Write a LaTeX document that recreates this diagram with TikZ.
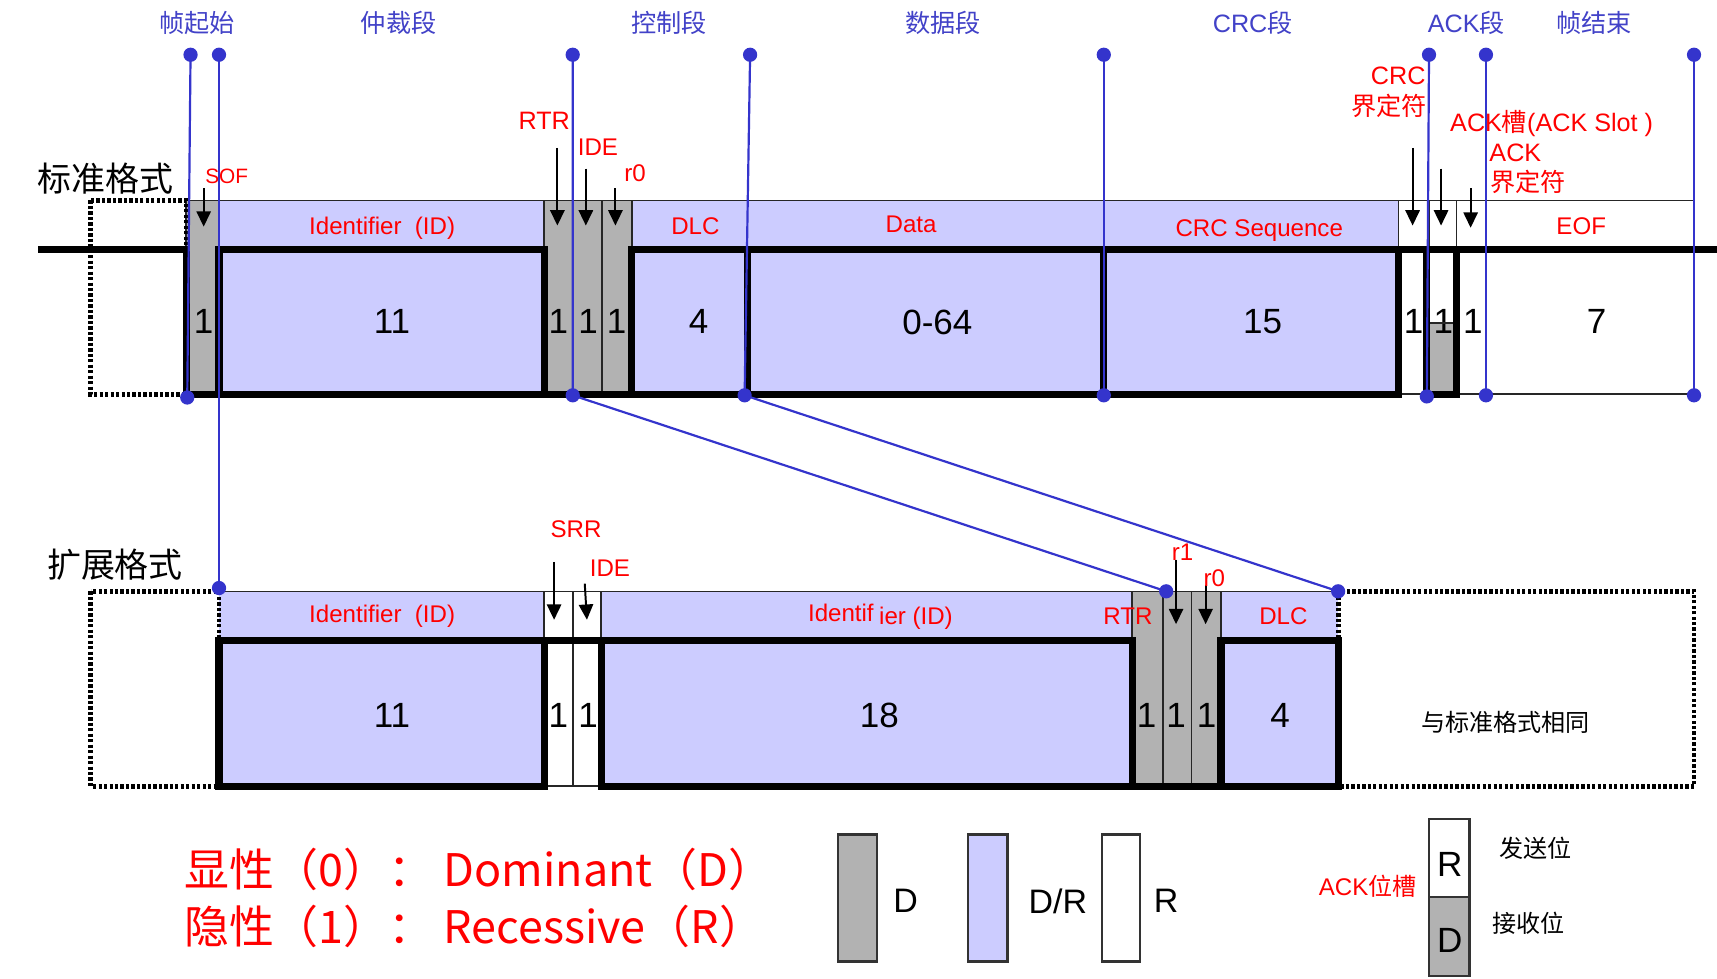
\documentclass[tikz,border=0pt]{standalone}
\usepackage{fontspec}
\setmainfont{Liberation Sans}
\newfontfamily\cjk{Noto Sans CJK SC}
\usetikzlibrary{arrows.meta}
\definecolor{lav}{RGB}{204,204,255}
\definecolor{gry}{RGB}{178,178,178}
\definecolor{bln}{RGB}{52,52,204}
\definecolor{blt}{RGB}{66,66,200}
\definecolor{rd}{RGB}{255,0,0}
\newcommand\cjtext[1]{{\cjk #1}}
\begin{document}
\begin{tikzpicture}[x=1pt,y=-1pt,
  thk/.style={line width=6.5pt,line join=miter,line cap=rect},
  thn/.style={line width=1.5pt,black!85},
  dsh/.style={line width=4.5pt,dash pattern=on 3pt off 2pt,black},
  bline/.style={line width=2pt,bln},
  bdot/.style={circle,fill=bln,inner sep=0pt,minimum size=13pt},
  arr/.style={line width=1.8pt,-{Triangle[width=13pt,length=14pt]}},
  toplab/.style={inner sep=0pt,text=blt,font=\fontsize{23pt}{26pt}\selectfont},
  redlab/.style={inner sep=0pt,text=rd,font=\fontsize{22pt}{26pt}\selectfont},
  smlab/.style={inner sep=0pt,text=rd,font=\fontsize{19pt}{22pt}\selectfont},
  num/.style={inner sep=0pt,font=\fontsize{32pt}{36pt}\selectfont},
  big/.style={inner sep=0pt,font=\fontsize{31pt}{34pt}\selectfont\cjk},
  legbox/.style={draw=black!80,line width=2pt},
  leglab/.style={inner sep=0pt,font=\fontsize{31pt}{34pt}\selectfont},
  legtxt/.style={inner sep=0pt,anchor=west,text=rd,font=\fontsize{41pt}{44pt}\selectfont\cjk},
  chn/.style={inner sep=0pt,font=\fontsize{22pt}{26pt}\selectfont\cjk}
]
\useasboundingbox (0,0) rectangle (1568,894);
\fill[white] (0,0) rectangle (1568,894);

% ---------- top segment labels ----------
\node[toplab] (l1) at (180,21) {\cjtext{帧起始}};
\node[toplab] (l2) at (364,21) {\cjtext{仲裁段}};
\node[toplab] (l3) at (611,21) {\cjtext{控制段}};
\node[toplab] (l4) at (861,21) {\cjtext{数据段}};
\node[toplab] (l5) at (1144,21) {CRC\cjtext{段}};
\node[toplab] (l6) at (1339,21) {ACK\cjtext{段}};
\node[toplab] (l7) at (1456,21) {\cjtext{帧结束}};

\node[big] (std) at (96,163) {标准格式};
\node[big] (ext) at (105,516) {扩展格式};

% ---------- standard frame ----------
\fill[gry] (170,183) rectangle (200,360);
\fill[lav] (200,183) rectangle (497,360);
\fill[gry] (497,183) rectangle (577,360);
\fill[lav] (577,183) rectangle (1277,360);
\fill[gry] (1305,295) rectangle (1330,360);

\draw[thn] (170,183) -- (1547,183);
\draw[thn] (1277,360) -- (1547,360);
\foreach \x in {170,497,523,550,577,1277,1305,1330,1357,1547} \draw[thn] (\x,183) -- (\x,360);

\node[redlab] (fid) at (349,208) {Identifier \ (ID)};
\node[redlab] (fdlc) at (635,207) {DLC};
\node[redlab] (fdata) at (832,205) {Data};
\node[redlab] (fcrc) at (1150,211) {CRC Sequence};
\node[redlab] (feof) at (1444,207) {EOF};

\node[num] (n1) at (186,294) {1};
\node[num] (n2) at (358,294) {11};
\node[num] (n3) at (510,294) {1};
\node[num] (n4) at (537,294) {1};
\node[num] (n5) at (563,294) {1};
\node[num] (n6) at (638,294) {4};
\node[num] (n7) at (856,294) {0-64};
\node[num] (n8) at (1153,294) {15};
\node[num] (n9) at (1291,294) {1};
\node[num] (n10) at (1318,294) {1};
\node[num] (n11) at (1345,294) {1};
\node[num] (n12) at (1458,294) {7};
\draw[thn] (1305,295) -- (1330,295);

\draw[thk] (38,228) -- (170,228) -- (170,360) -- (1277,360);
\draw[thk] (200,360) -- (200,228) -- (497,228) -- (497,360);
\draw[thk] (577,360) -- (577,228) -- (1568,228);
\foreach \x in {683,1008,1277} \draw[thk] (\x,228) -- (\x,360);
\draw[thk] (1303,228) -- (1303,360) -- (1330,360) -- (1330,228);
\draw[dsh] (83,183) rectangle (170,360);

% arrows and labels, standard
\coordinate (a1s) at (186,172); \coordinate (a1e) at (186,207);
\coordinate (a2s) at (509,135); \coordinate (a2e) at (509,206);
\coordinate (a3s) at (535,154); \coordinate (a3e) at (535,206);
\coordinate (a4s) at (562,172); \coordinate (a4e) at (562,206);
\coordinate (a5s) at (1290,135); \coordinate (a5e) at (1290,206);
\coordinate (a6s) at (1316,154); \coordinate (a6e) at (1316,206);
\coordinate (a7s) at (1343,172); \coordinate (a7e) at (1343,208);
\foreach \i in {1,...,7} \draw[arr] (a\i s) -- (a\i e);

\node[smlab] (sof) at (207,161) {SOF};
\node[redlab,font=\fontsize{23pt}{26pt}\selectfont] (rtr) at (497,110) {RTR};
\node[redlab] (ide) at (546,134) {IDE};
\node[redlab] (r0) at (580,158) {r0};
\node[redlab,font=\fontsize{23pt}{26pt}\selectfont,anchor=east] (crc1) at (1302,69) {CRC};
\node[redlab,font=\fontsize{23pt}{26pt}\selectfont\cjk,anchor=east] (crc2) at (1303,97) {界定符};
\node[redlab,font=\fontsize{23pt}{26pt}\selectfont] (acks) at (1417,113) {ACK\cjtext{槽}(ACK Slot )};
\node[redlab,font=\fontsize{23pt}{26pt}\selectfont,anchor=west] (ackd1) at (1360,140) {ACK};
\node[redlab,font=\fontsize{23pt}{26pt}\selectfont\cjk,anchor=west] (ackd2) at (1361,166) {界定符};

% ---------- extended frame ----------
\fill[lav] (200,540) rectangle (497,718);
\fill[white] (497,540) rectangle (549,718);
\fill[lav] (549,540) rectangle (1034,718);
\fill[gry] (1034,540) rectangle (1115,718);
\fill[lav] (1115,540) rectangle (1222,718);
\draw[thn] (200,540) -- (1222,540);
\foreach \x in {497,523,549,1034,1062,1088,1115} \draw[thn] (\x,540) -- (\x,718);
\draw[thn] (497,718) -- (549,718);

\node[redlab] (xid) at (349,563) {Identifier \ (ID)};
\node[redlab] (xid2) at (804,563) {Identif\hspace{5pt}\raisebox{-3pt}{ier (ID)}};
\node[redlab] (xrtr) at (1030,563) {RTR};
\node[redlab] (xdlc) at (1172,563) {DLC};

\node[num] (m1) at (358,653) {11};
\node[num] (m2) at (510,653) {1};
\node[num] (m3) at (537,653) {1};
\node[num] (m4) at (803,653) {18};
\node[num] (m5) at (1047,653) {1};
\node[num] (m6) at (1074,653) {1};
\node[num] (m7) at (1102,653) {1};
\node[num] (m8) at (1169,653) {4};
\node[chn] (same) at (1375,660) {与标准格式相同};

\draw[thk] (200,585) rectangle (497,718);
\draw[thk] (497,585) -- (549,585);
\draw[thk] (549,585) rectangle (1034,718);
\draw[thk] (1034,718) -- (1115,718);
\draw[thk] (1115,585) rectangle (1222,718);
\draw[dsh] (83,540) rectangle (200,718);
\draw[dsh] (1222,540) rectangle (1547,718);

\coordinate (b1s) at (506,513); \coordinate (b1e) at (506,566);
\coordinate (b2s) at (534,533); \coordinate (b2e) at (536,566);
\coordinate (b3s) at (1074,511); \coordinate (b3e) at (1074,570);
\coordinate (b4s) at (1101,534); \coordinate (b4e) at (1101,570);
\foreach \i in {1,...,4} \draw[arr] (b\i s) -- (b\i e);
\node[redlab] (srr) at (526,483) {SRR};
\node[redlab] (xide) at (557,519) {IDE};
\node[redlab] (xr1) at (1080,504) {r1};
\node[redlab] (xr0) at (1109,528) {r0};

% ---------- blue segment markers ----------
\coordinate (t1) at (174,50);  \coordinate (t2) at (200,50);
\coordinate (t3) at (523,50);  \coordinate (t4) at (685,50);
\coordinate (t5) at (1008,50); \coordinate (t6) at (1305,50);
\coordinate (t7) at (1357,50); \coordinate (t8) at (1547,50);
\coordinate (d1) at (171,363); \coordinate (d3) at (523,361);
\coordinate (d4) at (680,361); \coordinate (d5) at (1008,361);
\coordinate (d6) at (1303,362); \coordinate (d7) at (1357,361);
\coordinate (d8) at (1547,361);
\coordinate (e2) at (200,537); \coordinate (e3) at (1065,540);
\coordinate (e4) at (1222,540);
\draw[bline] (t1) -- (d1);
\draw[bline] (t2) -- (e2);
\draw[bline] (t3) -- (d3) -- (e3);
\draw[bline] (t4) -- (d4) -- (e4);
\draw[bline] (t5) -- (d5);
\draw[bline] (t6) -- (d6);
\draw[bline] (t7) -- (d7);
\draw[bline] (t8) -- (d8);
\foreach \p in {t1,t2,t3,t4,t5,t6,t7,t8,d1,d3,d4,d5,d6,d7,d8,e2,e3,e4}
  \node[bdot] at (\p) {};

% ---------- legend ----------
\node[legtxt] (lg1) at (168,794) {显性（0）： Dominant（D）};
\node[legtxt] (lg2) at (168,846) {隐性（1）： Recessive（R）};

\draw[legbox,fill=gry] (765,762) rectangle (801,878);
\node[leglab] (kD) at (827,823) {D};
\draw[legbox,fill=lav] (884,762) rectangle (920,878);
\node[leglab] (kDR) at (966,823) {D/R};
\draw[legbox,fill=white] (1006,762) rectangle (1041,878);
\node[leglab] (kR) at (1065,823) {R};

\draw[legbox,fill=white] (1305,748) rectangle (1342,819);
\draw[legbox,fill=gry] (1305,819) rectangle (1342,891);
\node[leglab,font=\fontsize{32pt}{34pt}\selectfont] (aR) at (1324,789) {R};
\node[leglab,font=\fontsize{32pt}{34pt}\selectfont] (aD) at (1324,859) {D};
\node[redlab,font=\fontsize{22pt}{26pt}\selectfont] (ackslot) at (1249,809) {ACK\cjtext{位槽}};
\node[chn] (send) at (1402,775) {发送位};
\node[chn] (recv) at (1396,843) {接收位};
\end{tikzpicture}
\end{document}
